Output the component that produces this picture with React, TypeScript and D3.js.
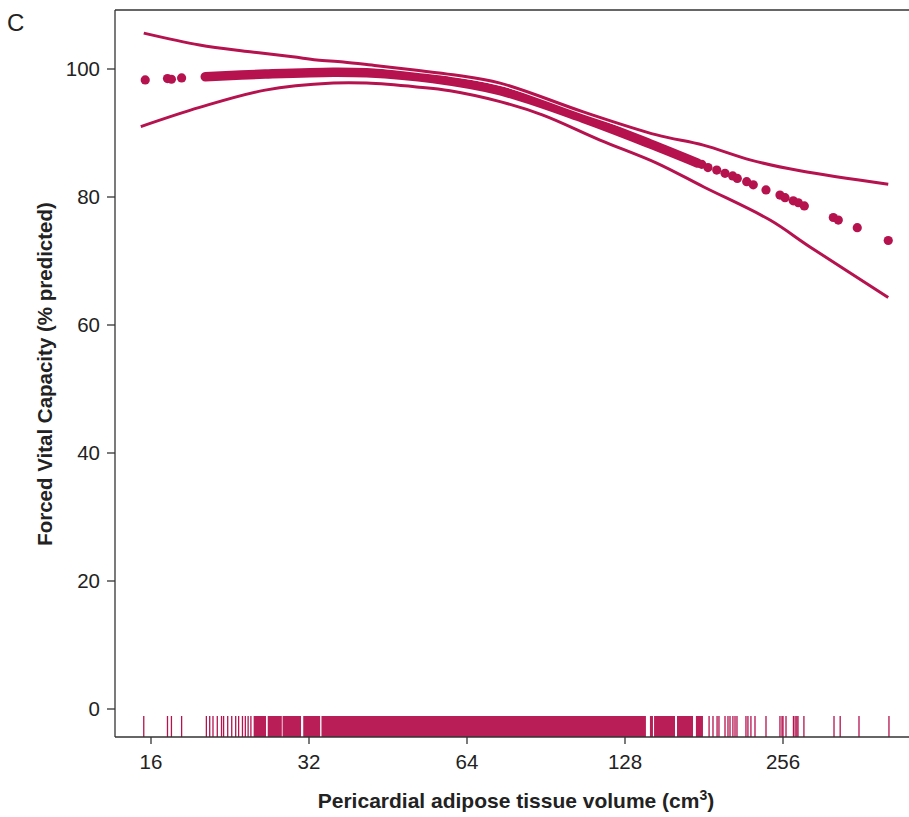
import * as d3 from "d3";

const W = 909;
const H = 817;
const RED = "#b5124e";

const X_TICKS = [16, 32, 64, 128, 256];
const Y_TICKS = [0, 20, 40, 60, 80, 100];

// upper confidence limit
const upperX = [15.5, 19.8, 24.7, 29.8, 33.1, 37.2, 43.1, 51.3, 60.2, 74.0, 106.6, 147.1, 180.5, 221.5, 275.9, 406.2];
const upperY = [105.6, 103.75, 102.7, 101.9, 101.4, 101.1, 100.5, 99.8, 99.1, 97.8, 93.3, 89.7, 88.1, 85.8, 84.1, 82.0];

// lower confidence limit
const lowerX = [15.3, 19.8, 26.4, 35.6, 41.2, 51.3, 59.4, 74.0, 89.3, 114.7, 147.1, 180.5, 241.8, 288.2, 406.2];
const lowerY = [91.0, 94.0, 96.7, 97.8, 97.8, 97.2, 96.6, 94.9, 92.8, 88.9, 85.3, 81.6, 76.4, 72.2, 64.3];

// fitted values where observations are dense
const fitX = [20.3, 26.4, 35.6, 41.2, 55.1, 74.0, 106.5, 142.9, 176.0];
const fitY = [98.8, 99.2, 99.5, 99.4, 98.5, 96.6, 92.3, 88.3, 85.3];

// fitted values at sparse observations
const dotX = [15.6, 17.2, 17.5, 18.3, 179.2, 184.2, 191.4, 198.5, 205.3, 209.5, 218.3, 224.7, 237.6, 252.6, 258.3, 267.8, 273.8, 281.1, 319.2, 326.3, 354.6, 406.2];
const dotY = [98.3, 98.5, 98.4, 98.6, 85.1, 84.6, 84.2, 83.7, 83.3, 82.9, 82.4, 81.9, 81.1, 80.3, 79.9, 79.4, 79.1, 78.6, 76.8, 76.4, 75.2, 73.2];

// rug: single observations
const rugValues = [15.5, 17.2, 17.5, 18.3, 20.4, 20.7, 21.0, 21.4, 21.8, 22.0, 22.4, 22.8, 23.2, 23.5, 23.9, 24.2, 24.5, 24.8,
  185.1, 188.3, 191.7, 193.3, 198.5, 201.1, 202.9, 205.5, 207.4, 209.2, 217.6, 219.5, 222.4, 226.4, 237.6,
  252.6, 254.9, 256, 259.4, 268, 270, 272, 273.4, 280.6, 320.2, 329, 357.3, 407.5];
// rug: stretches packed solid with observations
const rugBandStart = [25.1, 26.7, 28.5, 31.2, 33.8, 142.8, 145.4, 160.8, 174.7];
const rugBandEnd = [26.5, 28.4, 30.9, 33.6, 140.3, 144.7, 159.4, 172.5, 180.2];

export default function App() {
  const x = d3.scaleLog().base(2).domain([16, 256]).range([151, 783]);
  const y = d3.scaleLinear().domain([0, 100]).range([709, 69]);
  const left = 115, top = 10, bottom = 737;

  const line = d3.line<number>().curve(d3.curveCatmullRom);
  const upperPath = line(upperX.map((v, i) => [x(v), y(upperY[i])]) as any);
  const lowerPath = line(lowerX.map((v, i) => [x(v), y(lowerY[i])]) as any);
  const fitPath = line(fitX.map((v, i) => [x(v), y(fitY[i])]) as any);

  const font = "'Liberation Sans', Arial, Helvetica, sans-serif";

  return (
    <div style={{ position: "absolute", left: 0, top: 0 }}>
      <svg width={W} height={H} style={{ display: "block", fontFamily: font }}>
        <rect width={W} height={H} fill="#fff" />
        <text x={7} y={31} fontSize={24} fill="#222">C</text>

        {/* rug */}
        {rugBandStart.map((s, i) => (
          <rect key={"b" + i} x={x(s)} y={716} width={x(rugBandEnd[i]) - x(s)} height={bottom - 716} fill={RED} opacity={0.95} />
        ))}
        {rugValues.map((v, i) => (
          <line key={"r" + i} x1={x(v)} x2={x(v)} y1={716} y2={bottom} stroke={RED} strokeWidth={1.3} />
        ))}

        {/* fitted values */}
        <path d={fitPath as string} fill="none" stroke={RED} strokeWidth={9.5} strokeLinecap="round" />
        {dotX.map((v, i) => (
          <circle key={"d" + i} cx={x(v)} cy={y(dotY[i])} r={4.6} fill={RED} />
        ))}

        {/* confidence limits */}
        {[upperPath, lowerPath].map((p, i) => (
          <g key={"ci" + i}>
            <path d={p as string} fill="none" stroke="#fff" strokeWidth={5} />
            <path d={p as string} fill="none" stroke={RED} strokeWidth={3} />
          </g>
        ))}

        {/* frame */}
        <line x1={left} x2={W} y1={top} y2={top} stroke="#333" strokeWidth={1.3} />
        <line x1={left} x2={left} y1={top} y2={bottom} stroke="#333" strokeWidth={1.3} />
        <line x1={left} x2={W} y1={bottom} y2={bottom} stroke="#333" strokeWidth={1.3} />

        {/* x axis */}
        {X_TICKS.map((t) => (
          <g key={"x" + t}>
            <line x1={x(t)} x2={x(t)} y1={bottom} y2={bottom + 7} stroke="#333" strokeWidth={1.3} />
            <text x={x(t)} y={769} textAnchor="middle" fontSize={20.5} fill="#222">{t}</text>
          </g>
        ))}
        <text x={516} y={808} textAnchor="middle" fontSize={21} fontWeight="bold" fill="#222">
          Pericardial adipose tissue volume (cm<tspan dy={-8} fontSize={14}>3</tspan><tspan dy={8}>)</tspan>
        </text>

        {/* y axis */}
        {Y_TICKS.map((t) => (
          <g key={"y" + t}>
            <line x1={left - 8} x2={left} y1={y(t)} y2={y(t)} stroke="#333" strokeWidth={1.3} />
            <text x={100} y={y(t)} dy="0.36em" textAnchor="end" fontSize={20.5} fill="#222">{t}</text>
          </g>
        ))}
        <text transform={`translate(52,374) rotate(-90)`} textAnchor="middle" fontSize={20.5} fontWeight="bold" fill="#222">
          Forced Vital Capacity (% predicted)
        </text>
      </svg>
    </div>
  );
}
